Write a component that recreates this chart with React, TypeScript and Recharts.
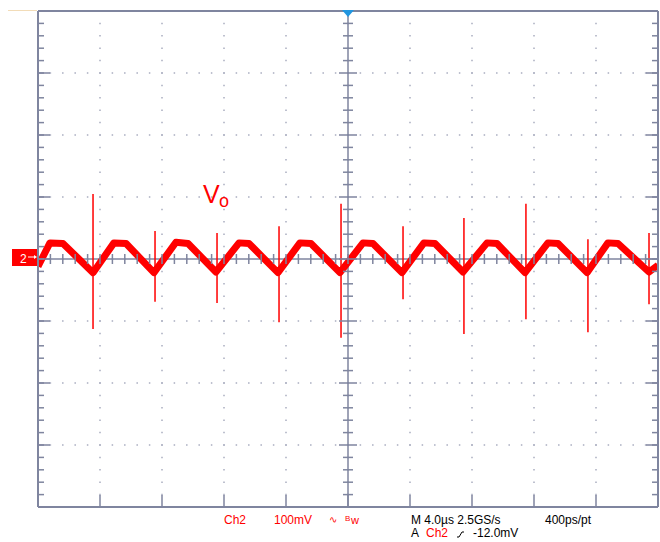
import {
  ComposedChart,
  Line,
  Scatter,
  XAxis,
  YAxis,
  CartesianGrid,
  ReferenceLine,
  ReferenceDot,
} from "recharts";

// ---------------------------------------------------------------------------
// Captured waveform (Ch2, 100 mV/div, 4 µs/div)
// ---------------------------------------------------------------------------

// Vo ripple envelope: time in µs, voltage in mV
const VO_T = [
  0, 0.77, 1.61, 3.55, 4.9, 5.68, 7.48, 8.9, 9.68, 11.48, 12.97, 13.61, 15.48,
  16.9, 17.61, 19.48, 20.97, 21.61, 23.48, 24.9, 25.61, 27.42, 28.97, 29.61,
  31.42, 32.9, 33.55, 35.42, 36.77, 37.42, 39.42, 40,
];
const VO_MV = [
  -12, 26, 25, -22, 26, 25, -22, 27, 25, -21, 26, 25, -22, 26, 25, -22, 26, 25,
  -22, 26, 25, -21, 26, 25, -22, 26, 25, -22, 26, 25, -21, -10,
];

// switching spikes at each trough
const SPIKE_T = [3.55, 7.55, 11.55, 15.55, 19.55, 23.55, 27.48, 31.48, 35.48, 39.42];
const SPIKE_HI = [105, 45, 42, 53, 89, 53, 66, 89, 32, 42];
const SPIKE_LO = [-113, -69, -71, -102, -127, -65, -121, -97, -118, -73];

// graticule
const X_MAJOR = [0, 4, 8, 12, 16, 20, 24, 28, 32, 36, 40];
const Y_MAJOR = [-400, -300, -200, -100, 0, 100, 200, 300, 400];
const X_MINOR_STEP = 0.8;
const Y_MINOR_STEP = 20;

const steps = (from: number, to: number, step: number) => {
  const out: number[] = [];
  const n = Math.round((to - from) / step);
  for (let i = 0; i <= n; i++) out.push(Math.round((from + i * step) * 100) / 100);
  return out;
};
const X_MINOR = steps(0, 40, X_MINOR_STEP);
const Y_MINOR = steps(-400, 400, Y_MINOR_STEP);

const RED = "#ff0000";
const GRID = "#7f859f";
const DOTS = "#a9adc0";
const FONT = '"Liberation Sans", Arial, sans-serif';

const traceData = VO_T.map((t, i) => ({ t, v: VO_MV[i] }));
const spikeData = SPIKE_T.flatMap((t, i) => [
  { t, v: SPIKE_HI[i] },
  { t, v: SPIKE_LO[i] },
  { t, v: null },
]);
const hTicks = X_MINOR.filter((t) => t > 0 && t < 40).map((t) => ({ t, v: 0 }));
const vTicks = Y_MINOR.filter((v) => v > -400 && v < 400).map((v) => ({ t: 20, v }));

// axes carry tick marks only, no labels
const NoLabel = () => <g />;

// eslint-disable-next-line @typescript-eslint/no-explicit-any
const HTick = (p: any) => (
  <line x1={p.cx} x2={p.cx} y1={p.cy - 5} y2={p.cy + 5} stroke={GRID} strokeWidth={1.5} />
);

// eslint-disable-next-line @typescript-eslint/no-explicit-any
const VTick = (p: any) => {
  const major = p.payload && p.payload.v % 100 === 0;
  const len = major ? 9 : 5;
  return <line x1={p.cx - len} x2={p.cx + len} y1={p.cy} y2={p.cy} stroke={GRID} strokeWidth={1.5} />;
};

// eslint-disable-next-line @typescript-eslint/no-explicit-any
const TriggerMark = (p: any) => (
  <polygon
    points={`${p.cx - 6},${p.cy - 1} ${p.cx + 6},${p.cy - 1} ${p.cx},${p.cy + 6}`}
    fill="#2196e0"
  />
);

// eslint-disable-next-line @typescript-eslint/no-explicit-any
const GroundMark = (p: any) => (
  <g>
    <rect x={p.cx - 26} y={p.cy - 10} width={25} height={17} fill={RED} />
    <text x={p.cx - 18} y={p.cy + 4} fill="#fff" fontSize={12} fontFamily={FONT}>
      2
    </text>
    <line x1={p.cx - 10} x2={p.cx - 4} y1={p.cy - 2} y2={p.cy - 2} stroke="#fff" strokeWidth={1} />
    <polygon
      points={`${p.cx - 4},${p.cy - 4} ${p.cx - 1},${p.cy - 2} ${p.cx - 4},${p.cy}`}
      fill="#fff"
    />
  </g>
);

const axisLine = { stroke: GRID, strokeWidth: 2 };
const tickLine = { stroke: GRID, strokeWidth: 1.5 };

export default function App() {
  return (
    <div
      style={{
        position: "absolute",
        left: 0,
        top: 0,
        width: 660,
        height: 542,
        background: "#fff",
        fontFamily: FONT,
      }}
    >
      <ComposedChart width={660} height={542} margin={{ top: 11, right: 2, bottom: 35, left: 38 }}>
        <CartesianGrid
          xAxisId="b"
          yAxisId="l"
          stroke={DOTS}
          strokeWidth={1.5}
          strokeDasharray="1.5 10.9"
          strokeDashoffset={0.75}
        />

        {/* border with long major and short minor ticks on every side */}
        <XAxis xAxisId="b" dataKey="t" type="number" domain={[0, 40]} allowDataOverflow
          ticks={X_MAJOR} interval={0} orientation="bottom" mirror height={1}
          tick={NoLabel} tickSize={12} axisLine={axisLine} tickLine={tickLine} />
        <XAxis xAxisId="bm" type="number" domain={[0, 40]} allowDataOverflow
          ticks={X_MINOR} interval={0} orientation="bottom" mirror height={1}
          tick={NoLabel} tickSize={5} axisLine={false} tickLine={tickLine} />
        <XAxis xAxisId="t" type="number" domain={[0, 40]} allowDataOverflow
          ticks={X_MAJOR} interval={0} orientation="top" mirror height={1}
          tick={NoLabel} tickSize={12} axisLine={axisLine} tickLine={tickLine} />
        <XAxis xAxisId="tm" type="number" domain={[0, 40]} allowDataOverflow
          ticks={X_MINOR} interval={0} orientation="top" mirror height={1}
          tick={NoLabel} tickSize={5} axisLine={false} tickLine={tickLine} />
        <YAxis yAxisId="l" dataKey="v" type="number" domain={[-400, 400]} allowDataOverflow
          ticks={Y_MAJOR} interval={0} orientation="left" mirror width={1}
          tick={NoLabel} tickSize={12} axisLine={axisLine} tickLine={tickLine} />
        <YAxis yAxisId="lm" type="number" domain={[-400, 400]} allowDataOverflow
          ticks={Y_MINOR} interval={0} orientation="left" mirror width={1}
          tick={NoLabel} tickSize={5} axisLine={false} tickLine={tickLine} />
        <YAxis yAxisId="r" type="number" domain={[-400, 400]} allowDataOverflow
          ticks={Y_MAJOR} interval={0} orientation="right" mirror width={1}
          tick={NoLabel} tickSize={12} axisLine={axisLine} tickLine={tickLine} />
        <YAxis yAxisId="rm" type="number" domain={[-400, 400]} allowDataOverflow
          ticks={Y_MINOR} interval={0} orientation="right" mirror width={1}
          tick={NoLabel} tickSize={5} axisLine={false} tickLine={tickLine} />

        {/* centre crosshair */}
        <ReferenceLine xAxisId="b" yAxisId="l" x={20} stroke={GRID} strokeWidth={1.5} />
        <ReferenceLine xAxisId="b" yAxisId="l" y={0} stroke={GRID} strokeWidth={1.5} />
        <Scatter xAxisId="b" yAxisId="l" data={hTicks} shape={HTick} isAnimationActive={false} />
        <Scatter xAxisId="b" yAxisId="l" data={vTicks} shape={VTick} isAnimationActive={false} />

        <ReferenceDot xAxisId="b" yAxisId="l" x={20} y={400} shape={TriggerMark} />
        <ReferenceDot xAxisId="b" yAxisId="l" x={0} y={0} shape={GroundMark} />

        {/* Vo trace */}
        <Line
          xAxisId="b"
          yAxisId="l"
          data={traceData}
          dataKey="v"
          type="linear"
          stroke={RED}
          strokeWidth={7}
          strokeLinejoin="round"
          dot={false}
          isAnimationActive={false}
        />
        <Line
          xAxisId="b"
          yAxisId="l"
          data={spikeData}
          dataKey="v"
          type="linear"
          stroke={RED}
          strokeWidth={1.5}
          dot={false}
          connectNulls={false}
          isAnimationActive={false}
        />
      </ComposedChart>

      <svg
        width={660}
        height={542}
        style={{ position: "absolute", left: 0, top: 0, pointerEvents: "none" }}
        fontFamily={FONT}
      >
        <line x1={8} x2={37} y1={10.5} y2={10.5} stroke="#f2dcb8" strokeWidth={1} />

        <text x={203} y={203} fontSize={25} fill={RED}>V</text>
        <text x={219} y={207} fontSize={18} fill={RED}>o</text>

        <g fontSize={12}>
          <text x={224} y={524} fill={RED}>Ch2</text>
          <text x={274} y={524} fill={RED}>100mV</text>
          <text x={329} y={523} fill={RED} fontSize={10}>∿</text>
          <text x={345} y={521} fill={RED} fontSize={8}>B</text>
          <text x={351} y={524} fill={RED} fontSize={11}>w</text>
          <text x={411} y={524} fill="#000">M 4.0µs 2.5GS/s</text>
          <text x={545} y={524} fill="#000">400ps/pt</text>
          <text x={411} y={537} fill="#000">A</text>
          <text x={426} y={537} fill={RED}>Ch2</text>
          <polyline points="457,537 459,537 462,532 464,532" fill="none" stroke="#000" strokeWidth={1} />
          <text x={473} y={537} fill="#000">-12.0mV</text>
        </g>
      </svg>
    </div>
  );
}
